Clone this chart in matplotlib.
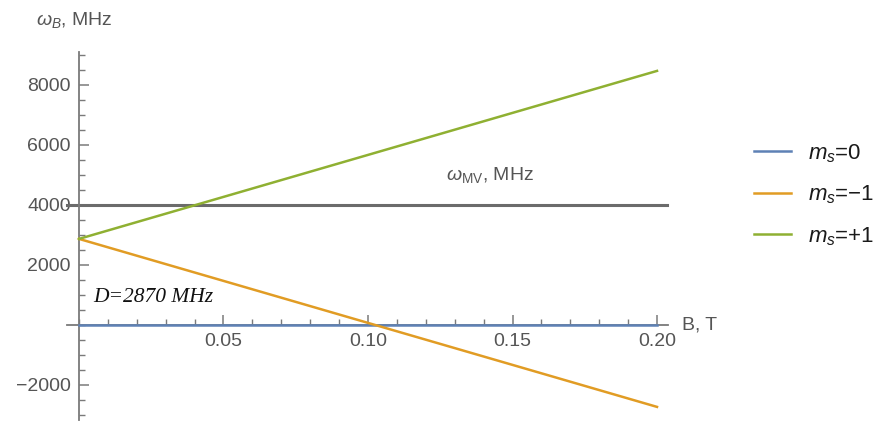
import numpy as np
import matplotlib
matplotlib.use("Agg")
import matplotlib.pyplot as plt
from matplotlib.ticker import MultipleLocator, FixedLocator

plt.rcParams['font.family'] = ['Liberation Sans', 'DejaVu Sans']
plt.rcParams['mathtext.fontset'] = 'custom'
plt.rcParams['mathtext.it'] = 'Liberation Sans:italic'
plt.rcParams['mathtext.rm'] = 'Liberation Sans'

# data: field B (T) and energies (MHz)
B = [0.0, 0.2]
ms_0 = [0, 0]
ms_m1 = [2870, -2730]
ms_p1 = [2870, 8470]
w_mv = 4000
labels = [r'$m_s$=0', r'$m_s$=$-$1', r'$m_s$=+1']
colors = ['#5E81B5', '#E19C24', '#8FB032']

W, H = 888, 425
fig = plt.figure(figsize=(W/100, H/100), dpi=100)
# axes box in pixels: left 67, right 668, top 52, bottom 420
ax = fig.add_axes([67/W, 1-420/H, (668-67)/W, (420-52)/H])
ax.set_xlim(-0.00415, 0.2038)
ax.set_ylim(-3167, 9100)

ax.plot(B, ms_0, color=colors[0], lw=1.8, label=labels[0], zorder=3)
ax.plot(B, ms_m1, color=colors[1], lw=1.8, label=labels[1], zorder=3)
ax.plot(B, ms_p1, color=colors[2], lw=1.8, label=labels[2], zorder=3)
ax.plot([-0.004, 0.2036], [w_mv, w_mv], color='#6b6b6b', lw=2.2, zorder=2, clip_on=False)

for s in ['top', 'right']:
    ax.spines[s].set_visible(False)
ax.spines['left'].set_position(('data', 0))
ax.spines['bottom'].set_position(('data', 0))
for s in ['left', 'bottom']:
    ax.spines[s].set_color('#7a7a7a')
    ax.spines[s].set_linewidth(1.3)

ax.xaxis.set_major_locator(FixedLocator([0.05, 0.10, 0.15, 0.20]))
ax.xaxis.set_minor_locator(MultipleLocator(0.01))
ax.yaxis.set_major_locator(FixedLocator([-2000, 2000, 4000, 6000, 8000]))
ax.yaxis.set_minor_locator(MultipleLocator(500))
ax.set_xticklabels(['0.05', '0.10', '0.15', '0.20'])
ax.set_yticklabels(['\u22122000', '2000', '4000', '6000', '8000'])
ax.tick_params(which='major', direction='in', length=7, width=1.1, color='#7a7a7a',
               labelsize=14, labelcolor='#555555', pad=6)
ax.tick_params(which='minor', direction='in', length=4, width=1.0, color='#7a7a7a')
ax.tick_params(axis='y', which='major', pad=6)

fig.text(36/W, 1-20/H, r'$\omega_B$, MHz', fontsize=14, color='#555555', va='center')
ax.text(0.127, 5000, r'$\omega_{\mathrm{MV}}$, MHz', fontsize=14, color='#555555', va='center')
ax.text(0.2085, 0, 'B, T', fontsize=14, color='#555555', va='center')
ax.text(0.005, 900, 'D=2870 MHz', fontsize=15.5, family='Liberation Serif', style='italic',
        color='#111111', va='center')

leg = fig.legend(loc='center left', bbox_to_anchor=(754/W, 1-195/H), frameon=False,
                 fontsize=16, handlelength=1.65, labelspacing=0.85, handletextpad=0.8,
                 borderaxespad=0, borderpad=0)
for t in leg.get_texts():
    t.set_color('#1a1a1a')

fig.savefig('out.png', dpi=100)
